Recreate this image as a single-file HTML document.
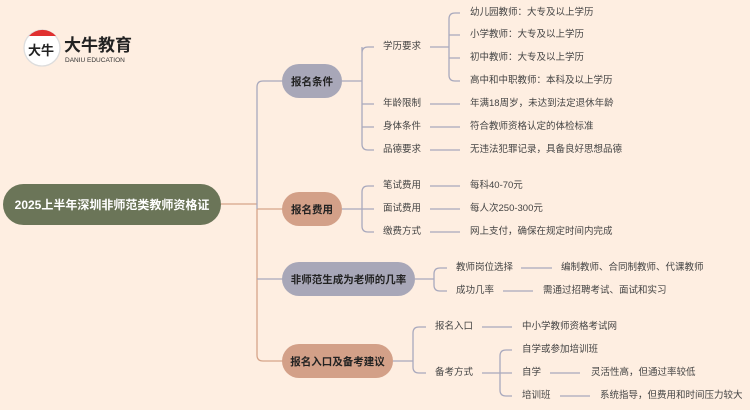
<!DOCTYPE html>
<html><head><meta charset="utf-8"><style>
body{margin:0;width:750px;height:410px;background:#feeee1;position:relative;overflow:hidden;font-family:"Liberation Sans","Noto Sans CJK SC",sans-serif;}
.t{position:absolute;font-size:9.5px;color:#444;line-height:12px;white-space:nowrap;transform:translateY(-6px);}
.n{position:absolute;border-radius:17px;font-weight:bold;font-size:10.5px;color:#222;display:flex;align-items:center;justify-content:center;white-space:nowrap;}
svg{position:absolute;left:0;top:0;}
</style></head><body>
<svg width="750" height="410" fill="none" stroke-width="1.3">
<g stroke="#d6a58a">
<path d="M221 204 H257 M257 209 V355 Q257 361 263 361 H283 M257 209 H283"/>
</g>
<g stroke="#a9a9bd">
<path d="M257 209 V87 Q257 81 263 81 H283 M257 279 H283"/>
<path d="M342 81 H362 M362 47 V144 Q362 150 368 150 H374 M362 53 Q362 47 368 47 H374 M362 104 H374 M362 127 H374"/>
<path d="M430 47 H449 M449 19 V75 Q449 81 455 81 H460 M449 19 Q449 13 455 13 H460 M449 35 H460 M449 58 H460"/>
<path d="M430 104 H460 M430 127 H460 M430 150 H460"/>
<path d="M342 209 H362 M362 192 V226 Q362 232 368 232 H374 M362 192 Q362 186 368 186 H374 M362 209 H374"/>
<path d="M430 186 H460 M430 209 H460 M430 232 H460"/>
<path d="M415 279 H434 M434 274 V285 Q434 291 440 291 H447 M434 274 Q434 268 440 268 H447"/>
<path d="M521 268 H552 M503 291 H533"/>
<path d="M393 361 H413 M413 333 V367 Q413 373 419 373 H426 M413 333 Q413 327 419 327 H426"/>
<path d="M482 327 H512 M482 373 H512 M500 356 V390 Q500 396 506 396 H512 M500 356 Q500 350 506 350 H512"/>
<path d="M550 373 H580 M560 396 H590"/>
</g>
<circle cx="42" cy="48" r="18" fill="#fff" stroke="#ddd"/>
<path d="M29 36 A18 18 0 0 1 56 36 Z" fill="#e03030"/>
</svg>
<div style="position:absolute;left:28px;top:40px;font-size:13px;font-weight:bold;color:#222;">大牛</div>
<div style="position:absolute;left:64px;top:36px;font-size:17px;line-height:20px;font-weight:bold;color:#222;">大牛教育</div>
<div style="position:absolute;left:65px;top:57px;font-size:6.5px;line-height:8px;color:#333;">DANIU EDUCATION</div>
<div class="n" style="left:3px;top:184px;width:218px;height:41px;border-radius:21px;background:#6b7558;color:#fff;font-size:12px;">2025上半年深圳非师范类教师资格证</div>
<div class="n" style="left:282px;top:64px;width:60px;height:34px;background:#a8a7b8;">报名条件</div>
<div class="n" style="left:282px;top:192px;width:60px;height:34px;background:#d3a088;">报名费用</div>
<div class="n" style="left:282px;top:262px;width:133px;height:34px;background:#a8a7b8;">非师范生成为老师的几率</div>
<div class="n" style="left:282px;top:344px;width:111px;height:34px;background:#d3a088;">报名入口及备考建议</div>
<div class="t" style="left:383px;top:47px">学历要求</div>
<div class="t" style="left:470px;top:13px">幼儿园教师：大专及以上学历</div>
<div class="t" style="left:470px;top:35px">小学教师：大专及以上学历</div>
<div class="t" style="left:470px;top:58px">初中教师：大专及以上学历</div>
<div class="t" style="left:470px;top:81px">高中和中职教师：本科及以上学历</div>
<div class="t" style="left:383px;top:104px">年龄限制</div>
<div class="t" style="left:470px;top:104px">年满18周岁，未达到法定退休年龄</div>
<div class="t" style="left:383px;top:127px">身体条件</div>
<div class="t" style="left:470px;top:127px">符合教师资格认定的体检标准</div>
<div class="t" style="left:383px;top:150px">品德要求</div>
<div class="t" style="left:470px;top:150px">无违法犯罪记录，具备良好思想品德</div>
<div class="t" style="left:383px;top:186px">笔试费用</div>
<div class="t" style="left:470px;top:186px">每科40-70元</div>
<div class="t" style="left:383px;top:209px">面试费用</div>
<div class="t" style="left:470px;top:209px">每人次250-300元</div>
<div class="t" style="left:383px;top:232px">缴费方式</div>
<div class="t" style="left:470px;top:232px">网上支付，确保在规定时间内完成</div>
<div class="t" style="left:456px;top:268px">教师岗位选择</div>
<div class="t" style="left:561px;top:268px">编制教师、合同制教师、代课教师</div>
<div class="t" style="left:456px;top:291px">成功几率</div>
<div class="t" style="left:543px;top:291px">需通过招聘考试、面试和实习</div>
<div class="t" style="left:435px;top:327px">报名入口</div>
<div class="t" style="left:522px;top:327px">中小学教师资格考试网</div>
<div class="t" style="left:435px;top:373px">备考方式</div>
<div class="t" style="left:522px;top:350px">自学或参加培训班</div>
<div class="t" style="left:522px;top:373px">自学</div>
<div class="t" style="left:591px;top:373px">灵活性高，但通过率较低</div>
<div class="t" style="left:522px;top:396px">培训班</div>
<div class="t" style="left:600px;top:396px">系统指导，但费用和时间压力较大</div>
</body></html>
